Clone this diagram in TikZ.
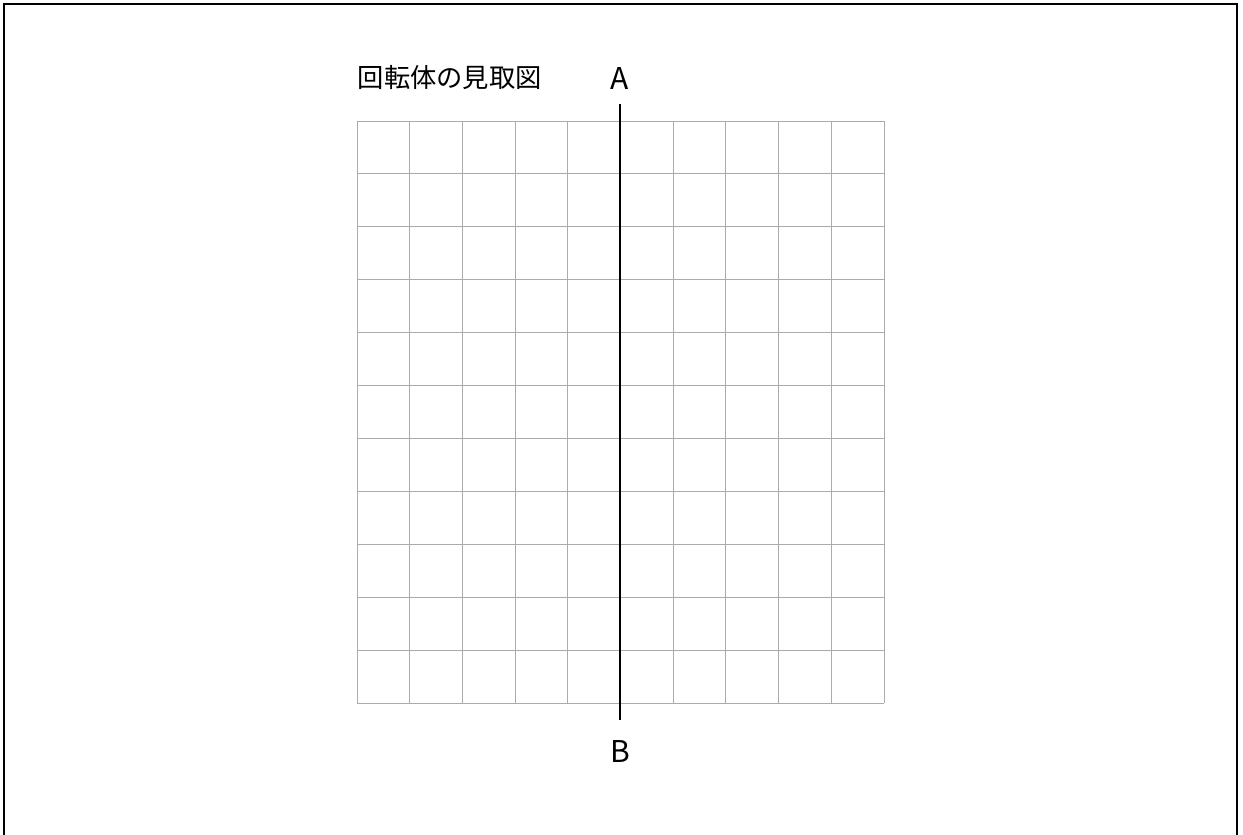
\documentclass[tikz,border=0pt]{standalone}
\usepackage{fontspec}
\newfontfamily\cjk{Noto Sans CJK JP}
\begin{document}
\begin{tikzpicture}[x=1pt,y=-1pt,
  gridline/.style={draw=black!33,line width=1pt},
  axisline/.style={draw=black,line width=1.3pt},
  frameline/.style={draw=black,line width=2pt},
  lbl/.style={inner sep=0pt,font=\cjk\fontsize{30}{34}\selectfont},
  ttl/.style={inner sep=0pt,anchor=west,font=\cjk\fontsize{26.3}{30}\selectfont}]
\useasboundingbox (0,0) rectangle (1243,835);
\draw[frameline] (4,840) -- (4,4) -- (1237,4) -- (1237,840);
\foreach \i in {0,...,10} {\draw[gridline] ({357+52.7*\i},121) -- ({357+52.7*\i},703);}
\foreach \j in {0,...,11} {\draw[gridline] (357,{121+52.909*\j}) -- (884,{121+52.909*\j});}
\node[ttl] (title) at (357.5,78) {回転体の見取図};
\node[lbl] (A) at (620,79) {A};
\node[lbl] (B) at (620,751) {B};
\coordinate (atop) at (620,104);
\coordinate (abot) at (620,720);
\draw[axisline] (atop) -- (abot);
\end{tikzpicture}
\end{document}
